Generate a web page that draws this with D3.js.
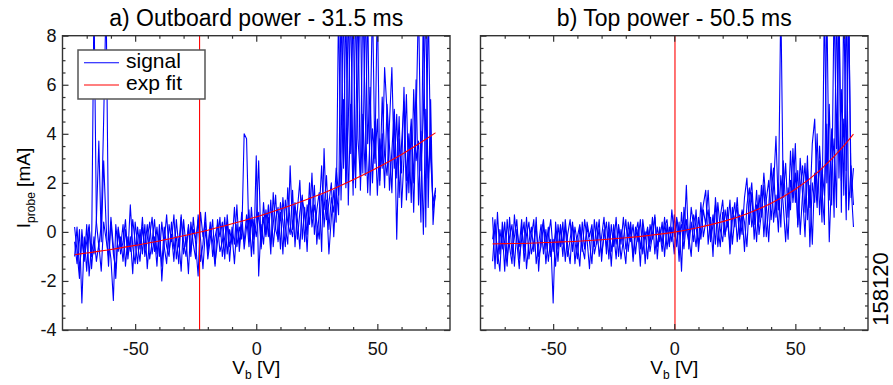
<!DOCTYPE html>
<html>
<head>
<meta charset="utf-8">
<script src="https://cdn.jsdelivr.net/npm/d3@7"></script>
<style>
  body { margin: 0; background: #fff; }
  svg { display: block; font-family: "Liberation Sans", Arial, sans-serif; }
  .tick line { stroke: #333; stroke-width: 1.2; }
  .tick text { fill: #111; font-size: 18px; }
  .frame { fill: none; stroke: #333; stroke-width: 1.4; }
  .signal { fill: none; stroke: #0000ff; stroke-width: 1.1; stroke-linejoin: round; }
  .fit { fill: none; stroke: #ff0000; stroke-width: 1.1; }
  .marker { stroke: #ff0000; stroke-width: 1.1; }
</style>
</head>
<body>
<div id="chart"></div>
<script>
// bias voltage grid of the sweeps [V]
const vGrid = [
  -75,-74,-73,-72,-71,-70,-69,-68,-67,-66,-65,-64,-63,-62,-61,-60,-59,-58,-57,-56,
  -55,-54,-53,-52,-51,-50,-49,-48,-47,-46,-45,-44,-43,-42,-41,-40,-39,-38,-37,-36,
  -35,-34,-33,-32,-31,-30,-29,-28,-27,-26,-25,-24,-23,-22,-21,-20,-19,-18,-17,-16,
  -15,-14,-13,-12,-11,-10,-9,-8,-7,-6,-5,-4,-3,-2,-1,0,1,2,3,4,
  5,6,7,8,9,10,11,12,13,14,15,16,17,18,19,20,21,22,23,24,
  25,26,27,28,29,30,31,32,33,34,35,36,37,38,39,40,41,42,43,44,
  45,46,47,48,49,50,51,52,53,54,55,56,57,58,59,60,61,62,63,64,
  65,66,67,68,69,70,71,72,73,74
];

// a) outboard power, three sweeps [mA]
const outboardUp = [
  -0.4,-1.3,0.1,-2.9,-0.2,-1.6,0.2,-1.0,9.5,0.4,
  -0.6,0.3,4.6,9.5,-0.3,-1.1,-2.8,0.3,-0.8,-0.2,
  -1.2,0.1,-0.9,1.1,-0.6,-1.3,0.2,-0.7,0.6,-1.0,
  -0.3,0.4,-0.9,-0.2,-1.4,0.3,-2.0,-0.4,0.7,-0.8,
  -0.1,-1.2,0.5,-0.6,0.7,-0.9,-0.2,-1.7,0.4,-0.5,
  -1.1,0.7,-0.3,-1.5,0.1,-0.7,0.4,-1.0,-0.2,0.3,
  -0.8,-0.4,0.6,-0.9,0.1,-0.5,1.0,-0.6,0.2,-0.3,
  4.0,3.8,-0.4,0.5,-0.9,3.1,-1.8,0.3,-0.5,0.9,
  -0.2,1.3,-0.6,0.5,1.0,-0.7,1.4,0.2,-0.5,2.7,
  0.1,1.2,-0.3,0.8,1.5,-0.4,1.1,0.3,2.4,-0.1,
  0.9,1.6,-0.8,3.4,0.5,1.2,2.0,-0.2,1.8,0.7,
  9.5,2.6,9.5,1.1,5.2,1.5,9.5,3.8,2.2,9.5,
  4.9,1.6,3.9,9.5,2.8,4.6,1.9,5.5,3.1,2.3,
  4.4,6.7,2.6,4.8,1.4,3.6,5.3,2.1,4.0,1.2,
  5.8,2.9,3.7,0.4,9.5,0.2,9.5,3.0,1.2,1.7
];
const outboardDown = [
  -1.0,0.2,-1.6,-0.3,-1.2,0.3,-1.8,-0.5,-0.9,0.5,
  3.7,-0.4,2.9,0.3,-1.4,0.4,-0.9,-1.5,0.2,-0.6,
  0.3,-1.4,-0.2,-0.8,0.5,-0.4,-1.3,0.1,-0.9,0.3,
  -1.5,-0.2,0.6,-0.8,0.2,-1.0,0.4,-0.6,-1.3,0.3,
  -0.4,0.7,-1.1,-0.3,-1.6,0.5,-0.6,0.2,-1.0,0.6,
  -0.5,-1.8,0.8,-0.2,0.4,-1.1,-0.3,0.5,-1.3,-0.4,
  0.6,-1.0,-0.2,0.4,-1.2,0.2,-0.5,1.1,-0.8,0.3,
  -0.4,0.7,-0.6,1.0,-0.3,0.4,2.9,-0.7,0.6,-0.2,
  1.1,-0.5,0.3,1.5,-0.4,0.8,-0.9,1.3,0.4,-0.1,
  1.7,-0.6,0.9,2.1,-0.3,1.0,-0.8,1.4,0.6,1.9,
  -0.5,0.8,2.7,0.2,1.3,-0.9,0.6,1.7,0.4,9.5,
  1.3,5.4,2.0,9.5,3.2,9.5,1.8,6.1,9.5,2.4,
  9.5,3.6,5.9,2.0,4.5,1.5,3.8,2.6,6.7,4.9,
  1.7,3.3,5.0,2.2,4.7,1.0,3.0,5.6,1.6,4.3,
  0.8,4.5,9.5,2.5,4.8,9.5,1.0,5.4,0.3,1.8
];
const outboardThird = [
  0.2,-0.8,-1.9,0.1,-1.1,-0.4,0.3,-1.5,-0.2,-1.2,
  -0.5,-1.6,0.4,-0.3,-1.0,0.6,-0.6,-1.9,0.1,-0.9,
  -0.4,0.5,-1.1,-0.2,-1.7,0.4,-0.5,-1.2,0.2,-0.7,
  0.3,-1.1,-0.4,0.5,-0.9,-0.1,-1.4,0.2,-0.6,-1.0,
  0.4,-0.7,-0.2,-1.3,0.6,-0.4,-1.0,0.3,-0.8,0.1,
  -0.3,0.5,-1.2,-0.5,0.8,-0.9,0.2,-0.4,-1.4,0.5,
  -0.2,0.4,-1.1,0.7,-0.6,-0.1,-1.3,0.3,-0.5,0.8,
  -0.7,0.2,0.9,-1.0,0.5,-0.2,0.8,-0.6,1.2,-0.1,
  0.6,-0.9,1.6,0.1,-0.3,1.2,0.4,-0.6,1.8,0.3,
  -0.2,1.0,0.5,-0.7,1.3,0.8,-0.1,2.0,0.2,1.1,
  0.4,-0.3,1.5,0.9,2.3,0.1,1.4,0.8,2.6,1.5,
  3.3,9.5,1.8,4.4,9.5,2.0,3.5,9.5,1.7,4.8,
  2.3,9.5,1.5,4.2,3.0,9.5,2.1,4.0,1.8,5.2,
  3.5,1.6,4.9,-0.3,3.8,2.4,5.9,1.3,3.2,4.6,
  2.0,6.2,1.1,4.1,-0.1,5.0,2.2,3.9,0.9,1.5
];

// b) top power, three sweeps [mA]
const topUp = [
  0.6,-1.5,0.8,-0.9,0.1,-1.6,0.5,-0.6,-1.3,0.7,
  -0.4,-1.5,0.2,-0.8,0.6,-1.1,-0.2,0.5,-1.3,-0.5,
  0.3,-0.9,0.1,-1.2,-0.3,-2.9,0.4,-0.7,0.2,-1.0,
  0.5,-0.6,-1.3,0.3,-0.4,-1.1,0.2,-0.8,0.5,-0.3,
  -1.5,0.1,-0.6,0.4,-1.0,-0.2,0.6,-0.9,0.1,-1.4,
  0.3,-0.5,0.2,-1.1,-0.3,0.5,-0.8,0.2,-1.2,-0.1,
  0.4,-0.7,0.3,-1.3,0.1,-0.5,0.6,-0.9,0.2,-0.4,
  0.4,-1.0,0.3,-0.6,0.9,-0.2,0.5,-1.2,0.8,-0.3,
  1.9,-0.7,0.4,-0.4,0.9,-0.8,0.3,1.1,1.7,-0.5,
  0.6,-1.0,1.4,0.2,-0.6,0.8,-0.2,1.0,-0.9,0.5,
  1.2,-0.4,0.7,-0.1,1.4,2.2,0.3,1.6,-0.3,1.1,
  0.4,1.9,-0.2,1.3,2.1,0.5,1.8,3.9,0.9,9.5,
  1.4,2.8,0.6,3.3,1.2,2.4,0.3,3.0,1.5,-0.2,
  2.6,1.0,3.6,4.6,1.3,2.9,0.4,9.5,2.0,5.2,
  1.1,9.5,3.4,9.5,0.8,9.5,2.5,9.5,1.9,0.2
];
const topDown = [
  -1.2,0.3,-0.8,-1.6,0.4,-0.5,-1.4,0.6,-0.9,-0.2,
  0.5,-1.1,-0.3,0.4,-1.5,-0.4,0.2,-0.8,0.6,-1.6,
  -0.1,0.5,-0.7,0.2,-1.0,-0.3,-1.4,0.3,-0.6,0.4,
  -1.2,-0.1,0.5,-0.8,0.2,-0.5,-1.4,0.4,-0.7,0.2,
  -0.4,-1.3,0.5,-0.5,0.1,-0.9,-0.2,0.4,-1.1,0.3,
  -0.6,0.6,-1.0,0.1,-0.5,-1.3,0.4,-0.4,0.3,-0.9,
  0.1,-1.4,0.5,-0.3,0.2,-0.8,-0.1,0.7,-1.1,0.2,
  -0.5,0.6,-0.7,0.2,-0.4,0.7,-0.6,0.4,-1.6,1.0,
  0.1,-0.4,1.0,0.2,-0.6,0.6,-0.3,0.9,0.3,1.7,
  -0.2,0.7,-0.5,1.2,0.1,-0.4,0.9,0.2,1.3,-0.5,
  0.6,1.0,-0.3,0.8,-0.8,1.1,1.8,0.2,0.9,-0.4,
  1.5,0.6,1.9,-0.2,1.0,2.8,0.4,1.5,0.0,2.3,
  1.1,-0.4,1.8,0.9,3.4,1.2,2.5,-0.1,1.6,2.8,
  0.5,1.9,-0.5,2.4,1.0,3.5,1.7,0.3,9.5,1.3,
  4.2,0.6,9.5,2.2,5.8,1.5,9.5,0.9,2.7,1.1
];
const topThird = [
  -0.3,0.5,-1.3,0.1,-0.7,0.4,-1.1,-0.2,0.3,-1.4,
  0.1,-0.6,0.5,-1.2,-0.1,0.4,-0.9,-0.4,0.2,-1.0,
  -0.6,0.3,-1.3,-0.2,0.5,-0.8,0.0,-1.2,0.3,-0.5,
  0.2,-1.0,-0.3,0.4,-1.3,-0.2,0.3,-0.6,-1.1,0.4,
  -0.2,0.3,-0.9,-0.4,0.5,-1.2,0.1,-0.6,0.4,-0.8,
  0.0,-1.1,0.3,-0.5,0.6,-0.7,-0.2,0.4,-1.0,0.2,
  -0.4,0.5,-0.9,0.0,-1.1,0.3,-0.3,0.6,-0.6,0.1,
  -0.8,0.2,0.5,-0.5,0.2,-0.9,0.6,-0.1,0.3,-0.7,
  0.5,-0.2,-1.0,0.7,0.2,-0.5,1.2,-0.2,0.4,0.9,
  -0.4,0.3,1.1,-0.6,0.6,1.3,-0.1,0.4,-0.5,1.0,
  0.2,1.4,-0.2,0.9,0.4,-0.6,1.2,2.0,0.3,1.7,
  -0.1,0.8,2.4,1.1,-0.4,1.6,2.6,0.6,1.9,0.2,
  2.9,1.0,-0.3,2.1,1.4,3.6,0.2,1.8,2.7,0.8,
  3.1,-0.6,2.0,1.2,4.0,0.7,2.6,1.5,4.4,-0.4,
  2.3,3.8,1.0,9.5,2.1,4.6,0.5,9.5,1.4,2.6
];

// exponential fits
const fitV = [-75,-70,-60,-50,-40,-30,-20,-10,0,10,20,30,40,50,60,70,74];
const outboardFit = [-0.93,-0.86,-0.72,-0.55,-0.37,-0.16,0.07,0.33,0.61,0.93,1.29,1.68,2.13,2.62,3.16,3.78,4.04];
const topFit = [-0.49,-0.48,-0.46,-0.42,-0.38,-0.32,-0.24,-0.14,-0.01,0.18,0.42,0.74,1.17,1.74,2.50,3.51,3.99];

// vertical markers (floating potential) [V]
const outboardMarker = -23.4;
const topMarker = 0.3;

// axes
const xMajor = [-50, 0, 50];
const xMajorLabels = ['-50', '0', '50'];
const xMinor = [-70, -60, -40, -30, -20, -10, 10, 20, 30, 40, 60, 70];
const yMajor = [-4, -2, 0, 2, 4, 6, 8];
const yMajorLabels = ['-4', '-2', '0', '2', '4', '6', '8'];
const yMinor = [-3.5, -3, -2.5, -1.5, -1, -0.5, 0.5, 1, 1.5, 2.5, 3, 3.5, 4.5, 5, 5.5, 6.5, 7, 7.5];

const legendLabels = ['signal', 'exp fit'];
const shotNumber = '158120';

const width = 893, height = 385;
const plotTop = 35.7, plotBottom = 330;

const panels = [
  { id: 'a', title: 'a) Outboard power - 31.5 ms', left: 62.5, right: 450,
    sweeps: [outboardUp, outboardDown, outboardThird], fit: outboardFit, marker: outboardMarker,
    yLabels: true, legend: true },
  { id: 'b', title: 'b) Top power - 50.5 ms', left: 480.5, right: 868,
    sweeps: [topUp, topDown, topThird], fit: topFit, marker: topMarker,
    yLabels: false, legend: false }
];

const svg = d3.select('#chart').append('svg')
    .attr('width', width)
    .attr('height', height);

const y = d3.scaleLinear().domain([-4, 8]).range([plotBottom, plotTop]);

panels.forEach(p => drawPanel(p));

// shot number, rotated on the right edge
svg.append('text')
    .attr('transform', 'translate(888,289) rotate(-90)')
    .attr('text-anchor', 'middle')
    .style('font-size', '22px')
    .text(shotNumber);

function drawPanel(p) {
  const x = d3.scaleLinear().domain([-80, 80]).range([p.left, p.right]);
  const g = svg.append('g');

  g.append('clipPath')
      .attr('id', 'clip-' + p.id)
    .append('rect')
      .attr('x', p.left)
      .attr('y', plotTop)
      .attr('width', p.right - p.left)
      .attr('height', plotBottom - plotTop);

  const plot = g.append('g').attr('clip-path', 'url(#clip-' + p.id + ')');

  const line = d3.line()
      .x((d, i) => x(vGrid[i]))
      .y(d => y(d));

  plot.selectAll('.signal')
      .data(p.sweeps)
    .enter().append('path')
      .attr('class', 'signal')
      .attr('d', line);

  const fitLine = d3.line()
      .x((d, i) => x(fitV[i]))
      .y(d => y(d))
      .curve(d3.curveMonotoneX);
  plot.append('path').datum(p.fit).attr('class', 'fit').attr('d', fitLine);

  plot.append('line')
      .attr('class', 'marker')
      .attr('x1', x(p.marker)).attr('x2', x(p.marker))
      .attr('y1', plotTop).attr('y2', plotBottom);

  // ticks on all four sides, pointing inwards
  addAxis(g, d3.axisBottom(x).tickValues(xMajor).tickSize(-6).tickPadding(12)
      .tickFormat((d, i) => xMajorLabels[i]), 0, plotBottom);
  addAxis(g, d3.axisBottom(x).tickValues(xMinor).tickSize(-3).tickFormat(''), 0, plotBottom);
  addAxis(g, d3.axisTop(x).tickValues(xMajor).tickSize(-6).tickFormat(''), 0, plotTop);
  addAxis(g, d3.axisTop(x).tickValues(xMinor).tickSize(-3).tickFormat(''), 0, plotTop);
  addAxis(g, d3.axisLeft(y).tickValues(yMajor).tickSize(-6).tickPadding(6)
      .tickFormat((d, i) => p.yLabels ? yMajorLabels[i] : ''), p.left, 0);
  addAxis(g, d3.axisLeft(y).tickValues(yMinor).tickSize(-3).tickFormat(''), p.left, 0);
  addAxis(g, d3.axisRight(y).tickValues(yMajor).tickSize(-6).tickFormat(''), p.right, 0);
  addAxis(g, d3.axisRight(y).tickValues(yMinor).tickSize(-3).tickFormat(''), p.right, 0);

  g.append('rect')
      .attr('class', 'frame')
      .attr('x', p.left)
      .attr('y', plotTop)
      .attr('width', p.right - p.left)
      .attr('height', plotBottom - plotTop);

  const cx = (p.left + p.right) / 2;

  g.append('text')
      .attr('x', cx)
      .attr('y', 26)
      .attr('text-anchor', 'middle')
      .style('font-size', '23px')
      .text(p.title);

  const xl = g.append('text')
      .attr('x', cx)
      .attr('y', 374)
      .attr('text-anchor', 'middle')
      .style('font-size', '19px');
  xl.append('tspan').text('V');
  xl.append('tspan').attr('dy', 5).style('font-size', '12px').text('b');
  xl.append('tspan').attr('dy', -5).text(' [V]');

  if (p.yLabels) {
    const yl = g.append('text')
        .attr('transform', 'translate(30,188) rotate(-90)')
        .attr('text-anchor', 'middle')
        .style('font-size', '19px');
    yl.append('tspan').text('I');
    yl.append('tspan').attr('dy', 5).style('font-size', '12px').text('probe');
    yl.append('tspan').attr('dy', -5).text(' [mA]');
  }

  if (p.legend) drawLegend(g);
}

function addAxis(g, axis, tx, ty) {
  const a = g.append('g')
      .attr('transform', 'translate(' + tx + ',' + ty + ')')
      .call(axis);
  a.select('.domain').remove();
  a.attr('font-family', null).attr('font-size', null);
}

function drawLegend(g) {
  const lg = g.append('g').attr('transform', 'translate(78,50)');
  lg.append('rect')
      .attr('width', 127)
      .attr('height', 49)
      .attr('fill', '#fff')
      .attr('stroke', '#555')
      .attr('stroke-width', 1.5);
  const colors = ['#0000ff', '#ff0000'];
  legendLabels.forEach((label, i) => {
    lg.append('line')
        .attr('x1', 6).attr('x2', 41)
        .attr('y1', 12.7 + i * 22.3).attr('y2', 12.7 + i * 22.3)
        .attr('stroke', colors[i])
        .attr('stroke-width', 1.1);
    lg.append('text')
        .attr('x', 48)
        .attr('y', 18 + i * 22.3)
        .style('font-size', '21px')
        .text(label);
  });
}
</script>
</body>
</html>
